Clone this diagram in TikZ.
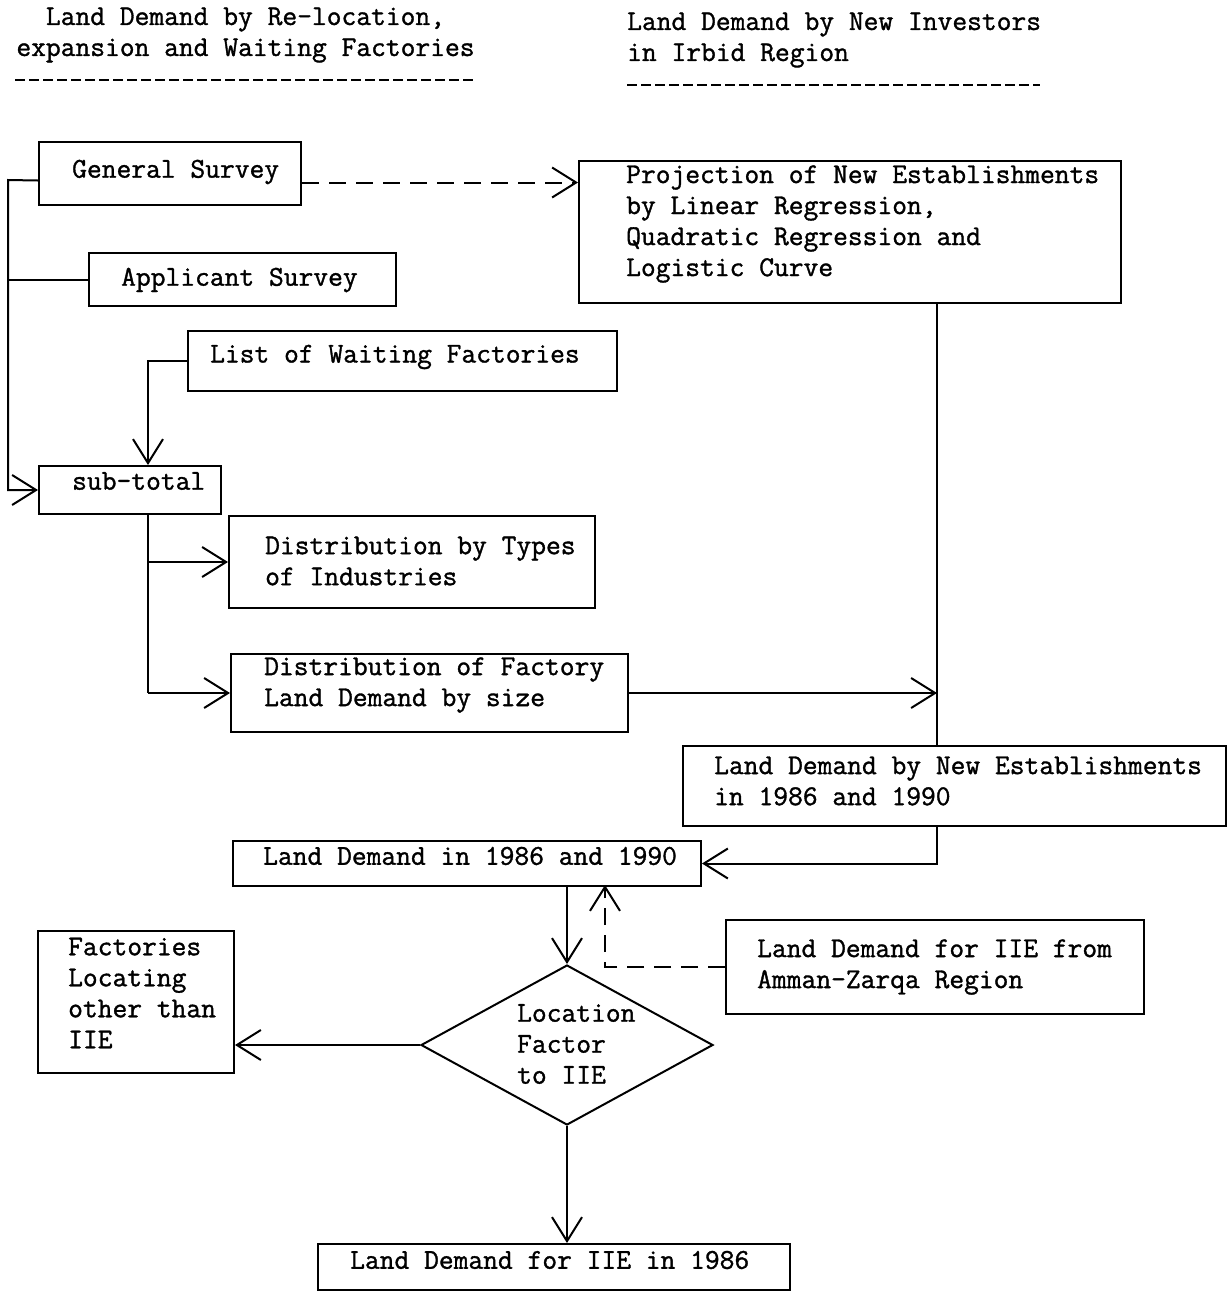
\documentclass[tikz,border=0pt]{standalone}
\usepackage{fontspec}
\setmonofont{Latin Modern Mono}[FakeBold=1.2]
\usetikzlibrary{arrows.meta,shapes.geometric}
\begin{document}
\begin{tikzpicture}[x=1pt,y=-1pt,
  every node/.style={font=\ttfamily\fontsize{28.7}{31}\selectfont},
  box/.style={draw, line width=2pt, inner sep=0pt, anchor=north west},
  txt/.style={anchor=west, align=left, inner sep=0pt},
  ln/.style={line width=2pt},
  arr/.style={line width=2pt, -{Straight Barb[length=24pt,width=30pt,line width=2pt]}},
  dsh/.style={dash pattern=on 17pt off 10pt},
  hdash/.style={line width=2pt, dash pattern=on 10pt off 4pt}
]
\useasboundingbox (0,0) rectangle (1228,1291);

% headers
\node[align=center, inner sep=0pt] (h1) at (245.5,35) {Land Demand by Re-location,\\expansion and Waiting Factories};
\node[txt] (h2) at (627,40) {Land Demand by New Investors\\in Irbid Region};
\draw[hdash] (15,80) -- (475,80);
\draw[hdash] (627,85) -- (1040,85);

% boxes
\node[box, minimum width=262, minimum height=63] (gs) at (38,141) {};
\node[txt] (gst) at (72,172) {General Survey};
\node[box, minimum width=307, minimum height=53] (as) at (88,252) {};
\node[txt] (ast) at (121,280) {Applicant Survey};
\node[box, minimum width=429, minimum height=60] (lw) at (187,330) {};
\node[txt] (lwt) at (210,357) {List of Waiting Factories};
\node[box, minimum width=182, minimum height=48] (sub) at (38,465) {};
\node[txt] (subt) at (72,481) {sub-total};
\node[box, minimum width=366, minimum height=92] (dt) at (228,515) {};
\node[txt] (dtt) at (265,561) {Distribution by Types\\of Industries};
\node[box, minimum width=397, minimum height=78] (df) at (230,653) {};
\node[txt] (dft) at (264,685) {Distribution of Factory\\Land Demand by size};
\node[box, minimum width=542, minimum height=142] (pr) at (578,160) {};
\node[txt] (prt) at (626,224) {Projection of New Establishments\\by Linear Regression,\\Quadratic Regression and\\Logistic Curve};
\node[box, minimum width=543, minimum height=80] (ne) at (682,745) {};
\node[txt] (net) at (714,781) {Land Demand by New Establishments\\in 1986 and 1990};
\node[box, minimum width=468, minimum height=45] (ld) at (232,840) {};
\node[txt] (ldt) at (263,856) {Land Demand in 1986 and 1990};
\node[box, minimum width=418, minimum height=94] (am) at (725,919) {};
\node[txt] (amt) at (757,967) {Land Demand for IIE from\\Amman-Zarqa Region};
\node[box, minimum width=196, minimum height=142] (fac) at (37,930) {};
\node[txt] (fact) at (68,993) {Factories\\Locating\\other than\\IIE};
\node[draw, diamond, line width=2pt, inner sep=0pt, minimum width=292, minimum height=160] (dia) at (567,1045) {};
\node[txt] (diat) at (517,1044) {Location\\Factor\\to IIE};
\node[box, minimum width=472, minimum height=46] (iie) at (317,1243) {};
\node[txt] (iiet) at (350,1260) {Land Demand for IIE in 1986};

% coordinates
\coordinate (gsL) at ([yshift=-7pt]gs.west);
\coordinate (gsR) at ([yshift=-9pt]gs.east);
\coordinate (busA) at (8,180);
\coordinate (subIn) at (148,465);
\coordinate (subOut) at (148,513);
\coordinate (prOut) at (937,302);
\coordinate (neIn) at (937,745);
\coordinate (neOut) at (937,825);
\coordinate (ldOut) at (567,885);
\coordinate (ldIn) at (605,885);

% connectors
\draw[ln, dsh, -{Straight Barb[length=24pt,width=30pt,line width=2pt]}] (gsR) -- (gsR -| pr.west);
\draw[arr] (gsL) -- (busA) |- (sub.west);
\draw[ln] (as.west) -- (as.west -| busA);
\draw[arr] (lw.west) -| (subIn);
\draw[ln] (subOut) -- (subOut |- df.west);
\draw[arr] (subOut |- dt.west) -- (dt.west);
\draw[arr] (subOut |- df.west) -- (df.west);
\draw[ln] (prOut) -- (neIn);
\draw[arr] (df.east) -- (df.east -| prOut);
\draw[arr] (neOut) |- (ld.east);
\draw[arr] (ldOut) -- (dia.north);
\draw[ln, dsh, -{Straight Barb[length=24pt,width=30pt,line width=2pt]}] (am.west) -| (ldIn);
\draw[arr] (dia.west) -- (dia.west -| fac.east);
\draw[arr] (dia.south) -- (dia.south |- iie.north);
\end{tikzpicture}
\end{document}
